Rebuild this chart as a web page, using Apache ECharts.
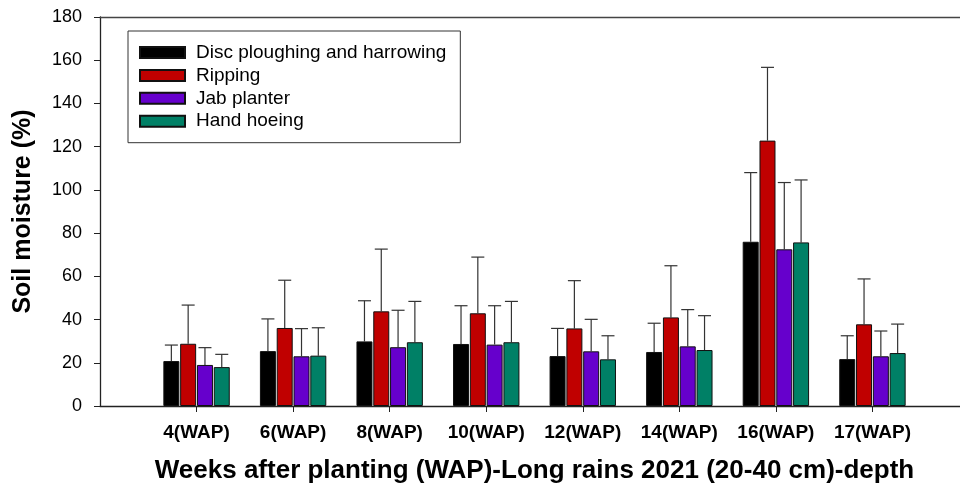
<!DOCTYPE html>
<html>
<head>
<meta charset="utf-8">
<script src="https://cdn.jsdelivr.net/npm/echarts@6/dist/echarts.min.js"></script>
<style>html,body{margin:0;padding:0;background:#fff;overflow:hidden}#c{width:960px;height:484px}</style>
</head>
<body>
<div id="c"></div>
<script>
const categories = ['', '4(WAP)', '6(WAP)', '8(WAP)', '10(WAP)', '12(WAP)', '14(WAP)', '16(WAP)', '17(WAP)', ''];
const seriesNames = ['Disc ploughing and harrowing', 'Ripping', 'Jab planter', 'Hand hoeing'];
const discMean   = [20.8, 25.4, 29.9, 28.7, 23.1, 25.0, 76.0, 21.7];
const rippingMean= [28.8, 36.1, 43.8, 42.9, 35.9, 41.0, 122.8, 37.8];
const jabMean    = [19.0, 23.0, 27.2, 28.4, 25.3, 27.6, 72.5, 23.0];
const hoeMean    = [18.0, 23.3, 29.5, 29.5, 21.6, 25.9, 75.7, 24.5];
const discUpper   = [28.2, 40.3, 48.7, 46.4, 35.9, 38.3, 108.0, 32.5];
const rippingUpper= [46.7, 58.2, 72.6, 68.9, 58.0, 64.9, 156.7, 58.8];
const jabUpper    = [27.0, 35.8, 44.3, 46.4, 40.1, 44.6, 103.4, 34.7];
const hoeUpper    = [23.9, 36.2, 48.4, 48.4, 32.5, 41.8, 104.6, 37.9];
const yTicks = [0, 20, 40, 60, 80, 100, 120, 140, 160, 180];

const means = [discMean, rippingMean, jabMean, hoeMean];
const uppers = [discUpper, rippingUpper, jabUpper, hoeUpper];
const colors = ['#000000', '#C00000', '#6600CC', '#008066'];

const BAR_W = 16, GAP_PX = 0.8, CAP_HALF = 6.5;
const font = '"Liberation Sans", Arial, sans-serif';

const series = [];
means.forEach((m, s) => {
  series.push({
    name: seriesNames[s],
    type: 'bar',
    barWidth: BAR_W,
    barGap: (GAP_PX / BAR_W * 100) + '%',
    itemStyle: { color: colors[s], borderColor: '#111', borderWidth: 1 },
    data: m.map((v, i) => [i + 1, v]),
    z: 2
  });
});
means.forEach((m, s) => {
  series.push({
    type: 'custom',
    name: 'err' + s,
    data: m.map((v, i) => [i + 1, v, uppers[s][i]]),
    z: 1,
    renderItem: function (params, api) {
      const base = api.coord([api.value(0), api.value(1)]);
      const top = api.coord([api.value(0), api.value(2)]);
      const x = base[0] + (s - 1.5) * (BAR_W + GAP_PX);
      const style = { stroke: '#333', lineWidth: 1.2 };
      return {
        type: 'group',
        children: [
          { type: 'line', shape: { x1: x, y1: base[1], x2: x, y2: top[1] }, style: style },
          { type: 'line', shape: { x1: x - CAP_HALF, y1: top[1], x2: x + CAP_HALF, y2: top[1] }, style: style }
        ]
      };
    }
  });
});

const chart = echarts.init(document.getElementById('c'), null, { renderer: 'canvas' });
chart.setOption({
  animation: false,
  backgroundColor: '#fff',
  textStyle: { fontFamily: font, color: '#000' },
  grid: { left: 100, width: 869, top: 17, height: 389, containLabel: false, outerBoundsMode: 'none' },
  legend: {
    data: seriesNames,
    orient: 'vertical',
    left: 128, top: 31,
    padding: [12, 14, 12, 11],
    borderColor: '#333', borderWidth: 1,
    icon: 'rect',
    itemWidth: 45, itemHeight: 11, itemGap: 3.9,
    textStyle: { fontSize: 19, lineHeight: 19, color: '#000', fontFamily: font, padding: [0, 0, 0, 6] },
    selectedMode: false
  },
  xAxis: [{
    type: 'category',
    data: categories,
    boundaryGap: false,
    axisLine: { lineStyle: { color: '#222', width: 1.3 } },
    axisTick: { show: true, length: 6, interval: function (i) { return i > 0 && i < categories.length - 1; }, lineStyle: { color: '#222' } },
    axisLabel: { interval: 0, fontSize: 19, fontWeight: 'bold', color: '#000', margin: 17, fontFamily: font },
    name: 'Weeks after planting (WAP)-Long rains 2021 (20-40 cm)-depth',
    nameLocation: 'middle',
    nameGap: 52,
    nameTextStyle: { fontSize: 26, fontWeight: 'bold', color: '#000', fontFamily: font },
    splitLine: { show: false }
  }, {
    type: 'value', position: 'top', min: 0, max: 1,
    axisLine: { show: true, lineStyle: { color: '#444', width: 1.3 } },
    axisTick: { show: false }, axisLabel: { show: false }, splitLine: { show: false }
  }],
  yAxis: {
    type: 'value',
    min: yTicks[0], max: yTicks[yTicks.length - 1], interval: 20,
    axisLine: { show: true, lineStyle: { color: '#222', width: 1.3 } },
    axisTick: { show: true, length: 6, lineStyle: { color: '#222' } },
    axisLabel: { fontSize: 18, color: '#000', margin: 18, fontFamily: font },
    splitLine: { show: false },
    name: 'Soil moisture (%)',
    nameLocation: 'middle',
    nameGap: 64,
    nameTextStyle: { fontSize: 25, fontWeight: 'bold', color: '#000', fontFamily: font }
  },
  series: series
});
</script>
</body>
</html>
